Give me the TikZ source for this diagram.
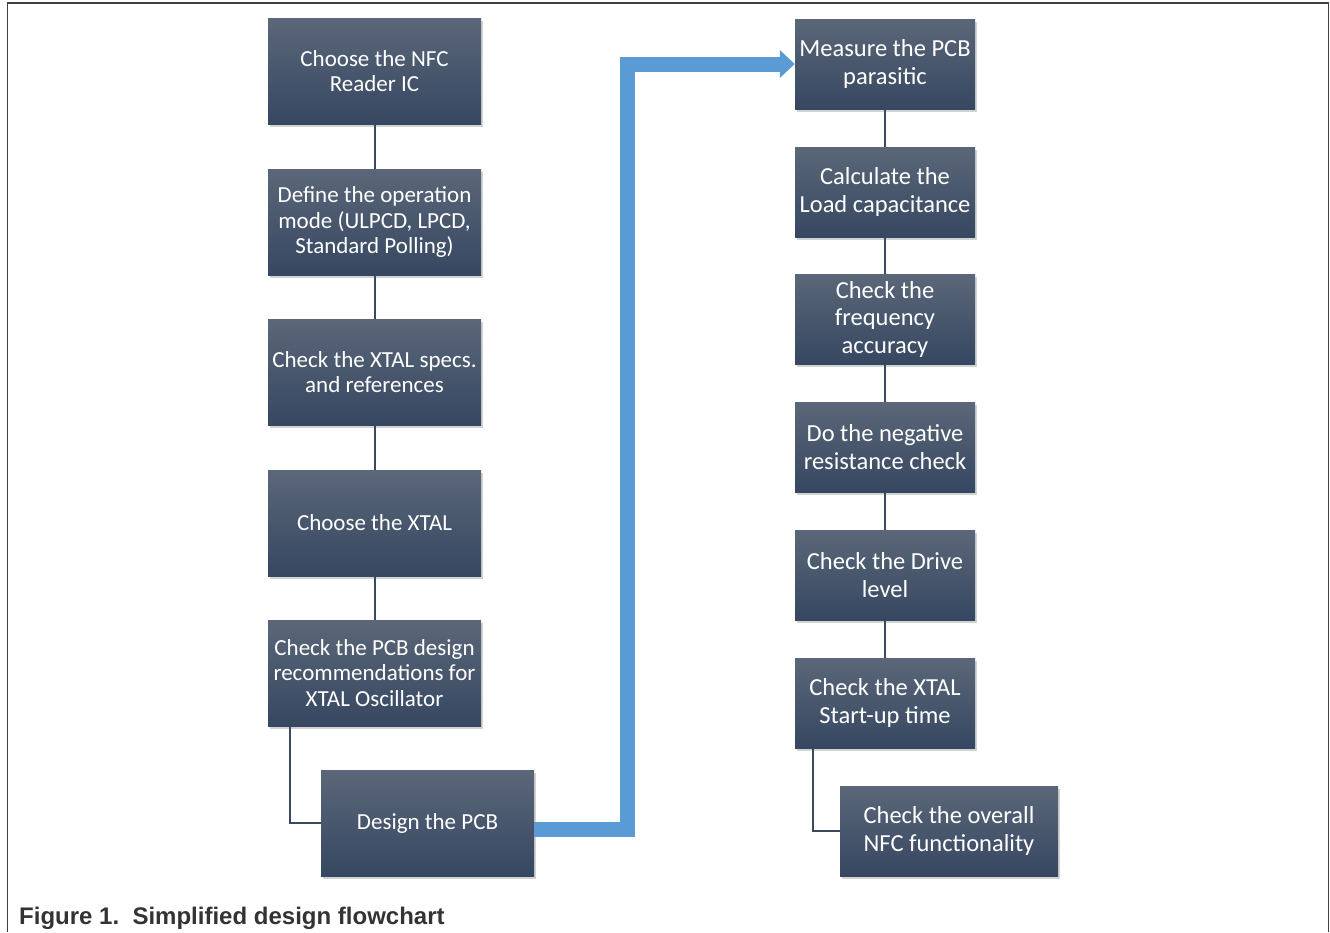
\documentclass[tikz,border=0pt]{standalone}
\usepackage{fontspec}
\setmainfont{Carlito}
\newfontfamily\capfont{Liberation Sans}
\usetikzlibrary{arrows.meta,shadows}
\definecolor{boxtop}{HTML}{5B6779}
\definecolor{boxbot}{HTML}{364761}
\definecolor{linkc}{HTML}{3A4860}
\definecolor{flowblue}{HTML}{5B9BD5}
\definecolor{framec}{HTML}{404040}
\definecolor{capc}{HTML}{333333}
\tikzset{
  stepbox/.style={rectangle, top color=boxtop, bottom color=boxbot, draw=none,
    text=white, align=center, inner sep=0pt,
    drop shadow={shadow xshift=2pt, shadow yshift=-3pt, opacity=0.25, fill=black!70}},
  leftbox/.style={stepbox, minimum width=213pt, minimum height=106pt,
    font=\fontsize{23}{25.5}\selectfont},
  rightbox/.style={stepbox, minimum width=180pt, minimum height=90pt,
    font=\fontsize{24.5}{27.5}\selectfont},
  link/.style={draw=linkc, line width=2pt},
  bigflow/.style={draw=flowblue, line width=15pt, line join=miter,
    -{Triangle[length=15pt,width=27pt]}},
}
\begin{document}
\begin{tikzpicture}[x=1pt,y=-1pt]
\useasboundingbox (0,0) rectangle (1330,932);
\draw[framec, line width=1.5pt] (7.5,932) -- (7.5,3) -- (1328.5,3) -- (1328.5,932);

% left column
\node[leftbox] (n1) at (374.5,71) {Choose the NFC\\Reader IC};
\node[leftbox] (n2) at (374.5,222) {Define the operation\\mode (ULPCD, LPCD,\\Standard Polling)};
\node[leftbox] (n3) at (374.5,372) {Check the XTAL specs.\\and references};
\node[leftbox] (n4) at (374.5,523) {Choose the XTAL};
\node[leftbox] (n5) at (374.5,673) {Check the PCB design\\recommendations for\\XTAL Oscillator};
\node[leftbox] (n6) at (427.5,823) {Design the PCB};

% right column
\node[rightbox] (m1) at (885,64) {Measure the PCB\\parasitic};
\node[rightbox] (m2) at (885,192) {Calculate the\\Load capacitance};
\node[rightbox] (m3) at (885,319) {Check the\\frequency\\accuracy};
\node[rightbox] (m4) at (885,447) {Do the negative\\resistance check};
\node[rightbox] (m5) at (885,575) {Check the Drive\\level};
\node[rightbox] (m6) at (885,703) {Check the XTAL\\Start-up time};
\node[rightbox, minimum width=218pt, minimum height=90pt] (m7) at (949,831) {Check the overall\\NFC functionality};

% connectors
\draw[link] (n1) -- (n2);
\draw[link] (n2) -- (n3);
\draw[link] (n3) -- (n4);
\draw[link] (n4) -- (n5);
\draw[link] (n5.south west) ++(22,0) coordinate (c5) |- (n6.west);
\draw[link] (m1) -- (m2);
\draw[link] (m2) -- (m3);
\draw[link] (m3) -- (m4);
\draw[link] (m4) -- (m5);
\draw[link] (m5) -- (m6);
\draw[link] (m6.south west) ++(18,0) coordinate (c6) |- (m7.west);

% big blue flow arrow
\coordinate (b0) at (534,829);
\coordinate (b1) at (627.5,829);
\coordinate (b2) at (627.5,64);
\draw[bigflow] (b0) -- (b1) -- (b2) -- (m1.west);

\node[anchor=west, text=capc, font=\capfont\bfseries\fontsize{24}{28}\selectfont, inner sep=0pt] (cap) at (19,918) {Figure 1.\ \ Simplified design flowchart};
\end{tikzpicture}
\end{document}
